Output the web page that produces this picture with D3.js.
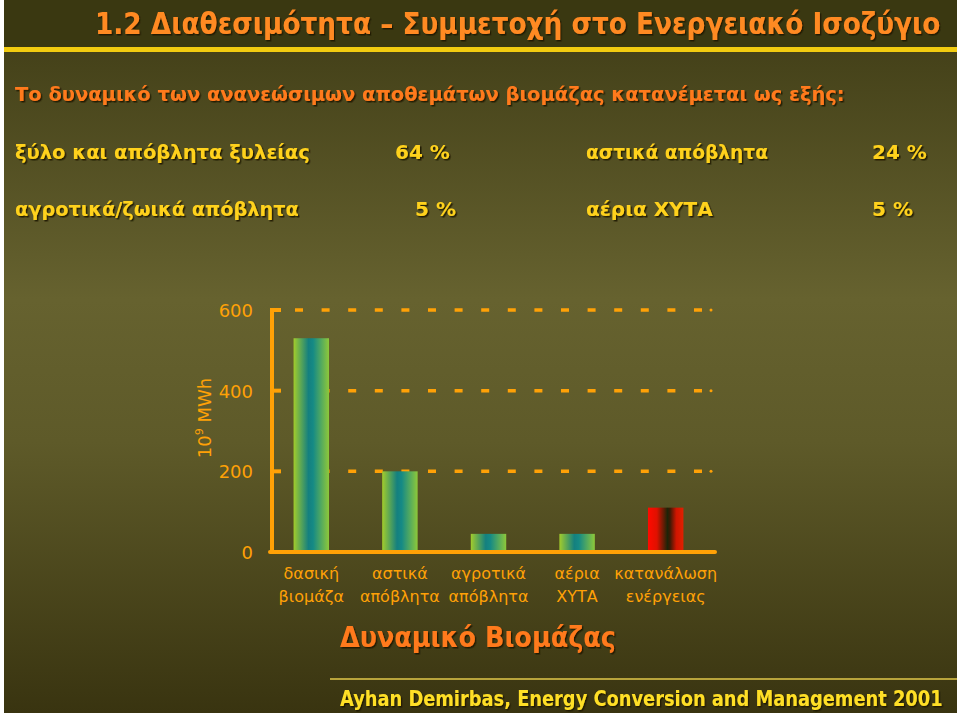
<!DOCTYPE html>
<html><head><meta charset="utf-8">
<script src="https://cdn.jsdelivr.net/npm/d3@7"></script>
<style>html,body{margin:0;padding:0;background:#fff}svg{display:block}</style>
</head><body>
<script>
// ---- data ----
const title = "1.2 Διαθεσιμότητα – Συμμετοχή στο Ενεργειακό Ισοζύγιο";
const intro = "Το δυναμικό των ανανεώσιμων αποθεμάτων βιομάζας κατανέμεται ως εξής:";
const shareNames = ["ξύλο και απόβλητα ξυλείας", "αστικά απόβλητα", "αγροτικά/ζωικά απόβλητα", "αέρια ΧΥΤΑ"];
const shareValues = ["64 %", "24 %", "5 %", "5 %"];
const categories = [["δασική","βιομάζα"],["αστικά","απόβλητα"],["αγροτικά","απόβλητα"],["αέρια","ΧΥΤΑ"],["κατανάλωση","ενέργειας"]];
const values = [530, 200, 45, 45, 110];
const barKinds = ["bio","bio","bio","bio","use"];
const yTicks = [0, 200, 400, 600];
const yTitle = "MWh";
const chartTitle = "Δυναμικό Βιομάζας";
const source = "Ayhan Demirbas, Energy Conversion and Management 2001";

const W = 960, H = 716;
const FONT = "'DejaVu Sans', sans-serif";
const svg = d3.select("body").append("svg").attr("width", W).attr("height", H);
const defs = svg.append("defs");

// gradients
const bg = defs.append("linearGradient").attr("id","bg").attr("x1",0).attr("y1",0).attr("x2",0).attr("y2",1);
[[0,"#3e3b15"],[0.42,"#66622f"],[0.62,"#5e5a29"],[1,"#393410"]].forEach(s=>bg.append("stop").attr("offset",s[0]).attr("stop-color",s[1]));
const gBio = defs.append("linearGradient").attr("id","bio").attr("x1",0).attr("y1",0).attr("x2",1).attr("y2",0);
[[0,"#a2cc2c"],[0.42,"#14807f"],[0.55,"#158a85"],[1,"#8ec83a"]].forEach(s=>gBio.append("stop").attr("offset",s[0]).attr("stop-color",s[1]));
const gUse = defs.append("linearGradient").attr("id","use").attr("x1",0).attr("y1",0).attr("x2",1).attr("y2",0);
[[0,"#ff0a00"],[0.25,"#e01000"],[0.55,"#1d2408"],[0.62,"#3a1a05"],[0.8,"#d01500"],[1,"#e02000"]].forEach(s=>gUse.append("stop").attr("offset",s[0]).attr("stop-color",s[1]));
const sh = defs.append("filter").attr("id","sh").attr("x","-5%").attr("y","-20%").attr("width","110%").attr("height","150%");
sh.append("feDropShadow").attr("dx",1.5).attr("dy",1.5).attr("stdDeviation",0.6).attr("flood-color","#1a1200").attr("flood-opacity",0.9);

// background
svg.append("rect").attr("x",0).attr("y",0).attr("width",W).attr("height",H).attr("fill","#ffffff");
svg.append("rect").attr("x",4).attr("y",0).attr("width",953).attr("height",713).attr("fill","url(#bg)");
svg.append("rect").attr("x",4).attr("y",0).attr("width",953).attr("height",47).attr("fill","#3a3811");
svg.append("rect").attr("x",4).attr("y",47).attr("width",953).attr("height",5).attr("fill","#f2cc10");

// helper: place text and squeeze horizontally to a target width
function fitText(str, x0, y0, target, size, fill, opts = {}) {
  const t = svg.append("text").attr("font-family",FONT).attr("font-size",size)
    .attr("font-weight", opts.weight || "bold").attr("fill",fill).text(str);
  if (opts.shadow !== false) t.attr("filter","url(#sh)");
  const w = t.node().getComputedTextLength();
  const s = Math.min(1, target / w);
  t.attr("transform", `translate(${x0},${y0}) scale(${s},1)`);
  return t;
}

fitText(title, 95, 34, 846, 31, "#ff8a24");
fitText(intro, 15, 101, 830, 20, "#ff7a1c");

const nameX = [15, 586, 15, 586], nameW = [295, 182, 284, 132];
const valX = [395, 872, 415, 872], valW = [58, 56, 45, 43];
const rowY = [159, 159, 216, 216];
shareNames.forEach((n,i)=>{
  fitText(n, nameX[i], rowY[i], nameW[i], 20, "#ffd21c");
  fitText(shareValues[i], valX[i], rowY[i], valW[i], 20, "#ffd21c");
});

// chart
const ORANGE = "#ffa106";
const x = d3.scaleBand().domain(d3.range(values.length)).range([267, 710]).paddingInner(0.6).paddingOuter(0.3);
const y = d3.scaleLinear().domain([0, 600]).range([552, 310]);
const axisX0 = 272, axisX1 = 715;

// gridlines (dashed)
const grid = svg.append("g");
grid.selectAll("line").data(yTicks.filter(d=>d>0)).join("line")
  .attr("x1",295).attr("x2",712).attr("y1",d=>y(d)).attr("y2",d=>y(d))
  .attr("stroke",ORANGE).attr("stroke-width",3.5).attr("stroke-dasharray","8,18.6");
grid.selectAll("circle").data(yTicks.filter(d=>d>0)).join("circle")
  .attr("cx",711).attr("cy",d=>y(d)).attr("r",1.5).attr("fill",ORANGE);

// bars
svg.append("g").selectAll("rect").data(values).join("rect")
  .attr("x",(d,i)=>x(i)).attr("width",x.bandwidth())
  .attr("y",d=>y(d)).attr("height",d=>y(0)-y(d))
  .attr("fill",(d,i)=>`url(#${barKinds[i]})`);

// axes lines
svg.append("line").attr("x1",axisX0).attr("x2",axisX0).attr("y1",y(600)-2).attr("y2",y(0)+2).attr("stroke",ORANGE).attr("stroke-width",4);
svg.append("line").attr("x1",axisX0-2).attr("x2",axisX1).attr("y1",y(0)).attr("y2",y(0)).attr("stroke",ORANGE).attr("stroke-width",4).attr("stroke-linecap","round");
svg.append("g").selectAll("line").data(yTicks.filter(d=>d>0)).join("line")
  .attr("x1",axisX0).attr("x2",axisX0+9).attr("y1",d=>y(d)).attr("y2",d=>y(d)).attr("stroke",ORANGE).attr("stroke-width",4);

// y tick labels via d3 axis
const yAxis = svg.append("g").attr("transform","translate(253,0)")
  .call(d3.axisLeft(y).tickValues(yTicks).tickSize(0).tickPadding(0).tickFormat(d3.format("d")));
yAxis.select(".domain").remove();
yAxis.selectAll("text").attr("font-family",FONT).attr("font-size",18).attr("fill",ORANGE).attr("dy","0.36em");

// y title
const yt = svg.append("text").attr("transform","translate(211,418) rotate(-90)").attr("text-anchor","middle")
  .attr("font-family",FONT).attr("font-size",18).attr("fill",ORANGE);
yt.append("tspan").text("10");
yt.append("tspan").attr("font-size",11).attr("dy",-8).text("9");
yt.append("tspan").attr("dy",8).text(" " + yTitle);

// category labels
const cl = svg.append("g").selectAll("text").data(categories).join("text")
  .attr("text-anchor","middle").attr("font-family",FONT).attr("font-size",16).attr("fill",ORANGE);
cl.each(function(d,i){
  const t = d3.select(this);
  const cx = x(i) + x.bandwidth()/2;
  d.forEach((line,j)=>t.append("tspan").attr("x",cx).attr("y",579 + j*23).text(line));
});

// chart title
fitText(chartTitle, 340, 647, 276, 28, "#ff7a1c");

// footer
svg.append("rect").attr("x",330).attr("y",678).attr("width",627).attr("height",2).attr("fill","#b8a43c");
fitText(source, 340, 706, 603, 21, "#ffdf26");
</script>
</body></html>
